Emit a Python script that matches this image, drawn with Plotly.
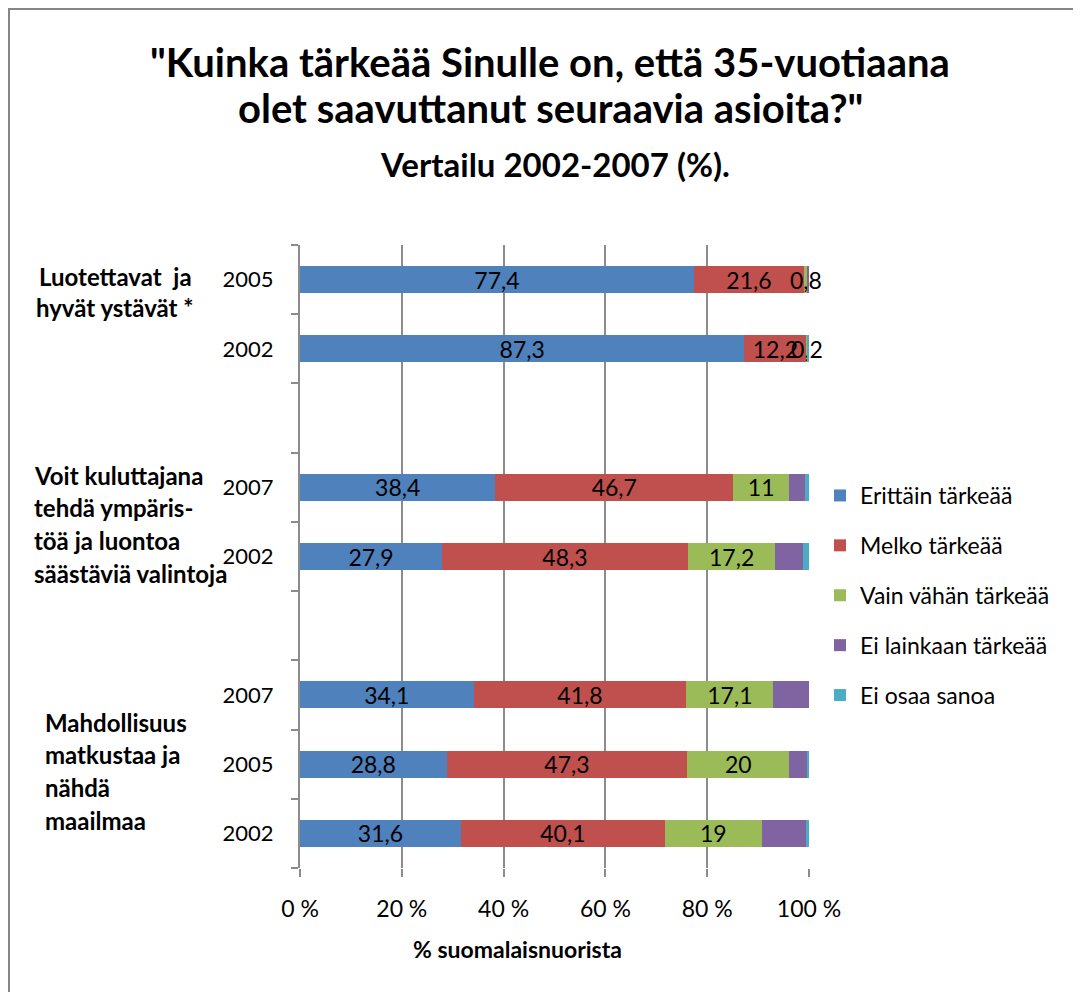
import plotly.graph_objects as go

# ---------------- data ----------------
row_labels = ["2005", "2002", "", "2007", "2002", "", "2007", "2005", "2002"]
series_names = ["Erittäin tärkeää", "Melko tärkeää", "Vain vähän tärkeää",
                "Ei lainkaan tärkeää", "Ei osaa sanoa"]
erittain = [77.4, 87.3, None, 38.4, 27.9, None, 34.1, 28.8, 31.6]
melko = [21.6, 12.2, None, 46.7, 48.3, None, 41.8, 47.3, 40.1]
vain_vahan = [0.8, 0.2, None, 11, 17.2, None, 17.1, 20, 19]
ei_lainkaan = [0.2, 0, None, 3.2, 5.5, None, 7.0, 3.6, 8.8]
ei_osaa = [0, 0.3, None, 0.7, 1.1, None, 0, 0.3, 0.5]
show_labels = [True, True, True, False, False]
colors = ["#4F81BD", "#C0504D", "#9BBB59", "#8064A2", "#4BACC6"]

group_labels = [
    ["Luotettavat  ja", "hyvät ystävät *"],
    ["Voit kuluttajana", "tehdä ympäris-", "töä ja luontoa", "säästäviä valintoja"],
    ["Mahdollisuus", "matkustaa ja", "nähdä", "maailmaa"],
]
x_ticks = [0, 20, 40, 60, 80, 100]
x_ticktext = [f"{v} %" for v in x_ticks]
title_lines = ['"Kuinka tärkeää Sinulle on, että 35-vuotiaana',
               'olet saavuttanut seuraavia asioita?"']
subtitle = "Vertailu 2002-2007 (%)."
x_title = "% suomalaisnuorista"

# ---------------- layout geometry (page pixel coords) ----------------
OFF = 8                      # default page body margin
W, H = 1081 - OFF, 992 - OFF  # figure size
L, R, T, B = 300, 809, 245, 868
FONT = "Lato"


def px_x(px):
    return (px - L) / (R - L)


def px_y(py):
    return (B - py) / (B - T)


def fmt(v):
    if v is None:
        return ""
    return f"{v:g}".replace(".", ",")


positions = list(range(len(row_labels)))
all_series = [erittain, melko, vain_vahan, ei_lainkaan, ei_osaa]

fig = go.Figure()
for name, vals, col, lab in zip(series_names, all_series, colors, show_labels):
    fig.add_trace(go.Bar(
        y=positions, x=vals, name=name, orientation="h",
        marker=dict(color=col, line=dict(width=0)),
        text=[fmt(v) for v in vals] if lab else None,
        textposition="inside" if lab else "none",
        insidetextanchor="middle", textangle=0, cliponaxis=False,
        textfont=dict(family=FONT, size=23, color="#000000"),
        legendgroup=name,
    ))

tickvals = [p for p, lbl in zip(positions, row_labels) if lbl]
ticktext = [lbl for lbl in row_labels if lbl]
boundaries = [p - 0.5 for p in positions] + [positions[-1] + 0.5]

fig.update_layout(
    width=W, height=H,
    margin=dict(l=L - OFF, r=W - (R - OFF), t=T - OFF, b=H - (B - OFF)),
    barmode="stack", barnorm="percent", bargap=0.61,
    plot_bgcolor="white", paper_bgcolor="white",
    uniformtext=dict(minsize=23, mode="show"),
    font=dict(family=FONT, color="#000000"),
    showlegend=True,
    legend=dict(x=px_x(820), xanchor="left", y=px_y(474), yanchor="top",
                font=dict(family=FONT, size=23, color="#000000"),
                traceorder="grouped", tracegroupgap=17,
                bgcolor="rgba(0,0,0,0)"),
    xaxis=dict(range=[0, 100], tickmode="array", tickvals=x_ticks,
               ticktext=x_ticktext,
               showgrid=True, gridcolor="#8C8C8C", gridwidth=2,
               ticks="outside", ticklen=8, tickwidth=2, tickcolor="#8C8C8C",
               showline=False, zeroline=False, ticklabelstandoff=12,
               tickfont=dict(family=FONT, size=23, color="#000000")),
    yaxis=dict(range=[positions[-1] + 0.5, -0.5], tickvals=tickvals,
               ticktext=ticktext, ticks="", showgrid=False, zeroline=False,
               showline=True, linecolor="#8C8C8C", linewidth=2,
               ticklabelstandoff=20,
               tickfont=dict(family=FONT, size=22, color="#000000"),
               minor=dict(tickmode="array", tickvals=boundaries,
                          ticks="outside", ticklen=7, tickwidth=2,
                          tickcolor="#8C8C8C", showgrid=False)),
)

# outer border
fig.add_shape(type="rect", xref="paper", yref="paper",
              x0=px_x(OFF + 1), x1=px_x(1081 + 30), y0=px_y(992 + 30), y1=px_y(OFF + 1),
              line=dict(color="#868686", width=2), layer="below")

annotations = []
# titles
for line, py in zip(title_lines, [62, 108]):
    annotations.append(dict(text=f"<b>{line}</b>", x=px_x(550), y=px_y(py),
                            xref="paper", yref="paper", showarrow=False,
                            xanchor="center", yanchor="middle",
                            font=dict(family=FONT, size=40, color="#000000")))
annotations.append(dict(text=f"<b>{subtitle}</b>", x=px_x(555), y=px_y(164),
                        xref="paper", yref="paper", showarrow=False,
                        xanchor="center", yanchor="middle",
                        font=dict(family=FONT, size=33, color="#000000")))
annotations.append(dict(text=f"<b>{x_title}</b>", x=px_x(517), y=px_y(949),
                        xref="paper", yref="paper", showarrow=False,
                        xanchor="center", yanchor="middle",
                        font=dict(family=FONT, size=23, color="#000000")))

# group labels
group_layout = [
    (115, "center", "center", [277, 307]),
    (32, "left", "left", [475, 507, 540, 573]),
    (43, "left", "left", [722, 754, 787, 820]),
]
for lines, (gx, anchor, align, ys) in zip(group_labels, group_layout):
    for line, py in zip(lines, ys):
        annotations.append(dict(text=f"<b>{line}</b>", x=px_x(gx), y=px_y(py),
                                xref="paper", yref="paper", showarrow=False,
                                xanchor=anchor, yanchor="middle", align=align,
                                font=dict(family=FONT, size=24, color="#000000")))
fig.update_layout(annotations=annotations)

fig.write_html("out.html")
